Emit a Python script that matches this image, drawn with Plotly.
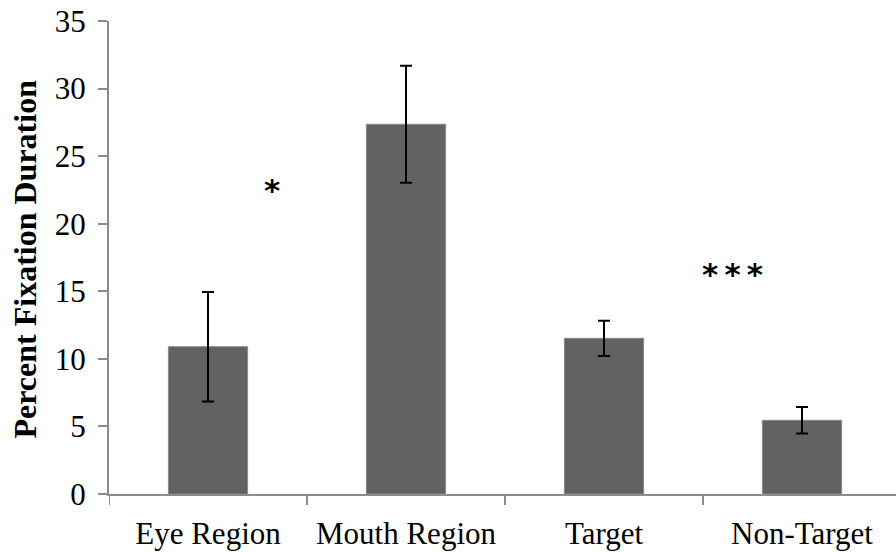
import plotly.graph_objects as go

categories = ["Eye Region", "Mouth Region", "Target", "Non-Target"]
values = [10.9, 27.36, 11.52, 5.45]
errors = [4.05, 4.33, 1.3, 0.98]
y_ticks = [0, 5, 10, 15, 20, 25, 30, 35]
sig_labels = ["*", "*\u2009*\u2009*"]
sig_x = [0.323, 2.65]
sig_y = [22.5, 16.3]

FONT = "Liberation Serif"
W, H = 896, 552
L, T, B = 109, 21, 58
plot_w = W - L
plot_h = H - T - B
cat_px = 198
x_hi = -0.5 + plot_w / cat_px

fig = go.Figure()
fig.add_trace(go.Bar(
    x=list(range(len(categories))), y=values,
    width=0.4,
    marker=dict(color="#626262", line=dict(color="#8a8a8a", width=1)),
    error_y=dict(type="data", array=errors, visible=True, color="black", thickness=2, width=6),
    showlegend=False,
))

for lbl, sx, sy in zip(sig_labels, sig_x, sig_y):
    fig.add_annotation(x=sx, y=sy, xref="x", yref="y", text="<b>" + lbl + "</b>", showarrow=False,
                       font=dict(family="DejaVu Sans", size=31, color="black"),
                       xanchor="center", yanchor="middle")

fig.add_annotation(x=(24 - L) / plot_w, y=(494 - 259.5) / plot_h, xref="paper", yref="paper",
                   text="<b>Percent Fixation Duration</b>", textangle=-90, showarrow=False,
                   font=dict(family=FONT, size=32, color="black"),
                   xanchor="center", yanchor="middle")

fig.update_layout(
    width=W, height=H,
    margin=dict(l=L, r=0, t=T, b=B, pad=0),
    paper_bgcolor="white", plot_bgcolor="white",
    font=dict(family=FONT, size=31, color="black"),
    xaxis=dict(
        range=[-0.5, x_hi],
        tickmode="array", tickvals=list(range(len(categories))), ticktext=categories,
        showline=True, linecolor="#8c8c8c", linewidth=2,
        ticks="", showgrid=False, zeroline=False,
        ticklabelstandoff=11,
    ),
    yaxis=dict(
        range=[0, 35], tickmode="array", tickvals=y_ticks,
        showline=True, linecolor="#8c8c8c", linewidth=2,
        ticks="outside", ticklen=9, tickcolor="#8c8c8c", tickwidth=2,
        showgrid=False, zeroline=False,
        ticklabelstandoff=6,
    ),
    bargap=0.6,
)

# category boundary ticks on the x axis
for b in [-0.5, 0.5, 1.5, 2.5]:
    fig.add_shape(type="line", x0=b, x1=b, xref="x", y0=0, y1=-11 / plot_h, yref="paper",
                  line=dict(color="#8c8c8c", width=2))

fig.write_html("out.html")
